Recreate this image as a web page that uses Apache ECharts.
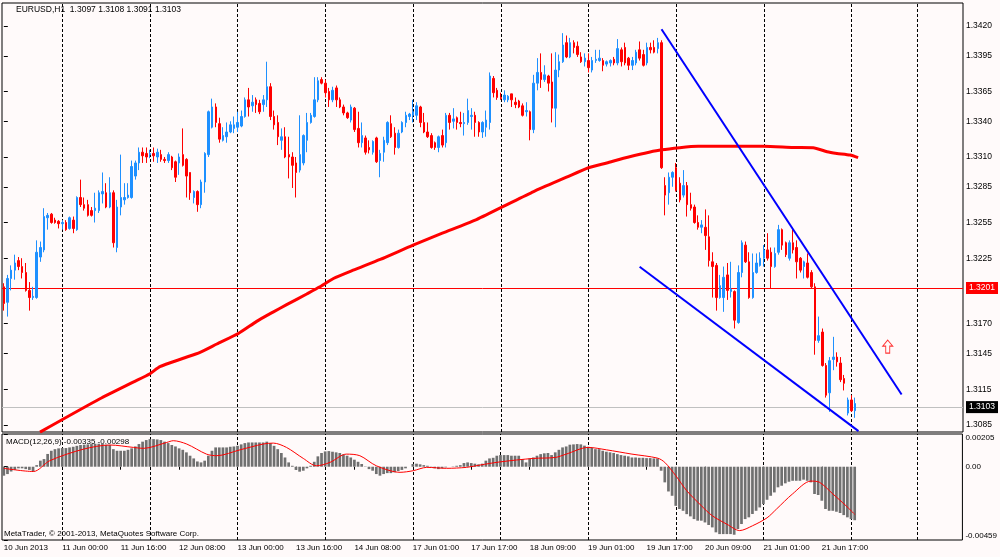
<!DOCTYPE html>
<html>
<head>
<meta charset="utf-8">
<script src="https://cdn.jsdelivr.net/npm/echarts@6/dist/echarts.min.js"></script>
<style>
    html, body { margin: 0; padding: 0; background: #FFFAFA; }
    #chart { width: 1000px; height: 557px; }
</style>
</head>
<body>
<div id="chart"></div>
<script>
// EURUSD H1, 10 Jun 08:00 .. 24 Jun 2013

const slotCount = 263 // bars + empty shift on the right

const opens = [
    1.3201,1.3188,1.3208,1.3215,1.3223,1.3218,1.3213,1.3198,1.3192,1.3192,
    1.3226,1.3232,1.3259,1.3262,1.3257,1.3256,1.3254,1.3255,1.3250,1.3257,
    1.3249,1.3276,1.3270,1.3270,1.3265,1.3265,1.3265,1.3279,1.3280,1.3268,
    1.3280,1.3234,1.3268,1.3274,1.3276,1.3276,1.3294,1.3305,1.3314,1.3313,
    1.3312,1.3313,1.3310,1.3312,1.3308,1.3307,1.3310,1.3306,1.3305,1.3312,
    1.3308,1.3297,1.3276,1.3281,1.3270,1.3289,1.3312,1.3335,1.3352,1.3338,
    1.3324,1.3327,1.3331,1.3334,1.3335,1.3336,1.3344,1.3358,1.3353,1.3358,
    1.3355,1.3354,1.3358,1.3369,1.3344,1.3339,1.3324,1.3327,1.3312,1.3310,
    1.3305,1.3299,1.3305,1.3324,1.3339,1.3344,1.3358,1.3375,1.3372,1.3365,
    1.3358,1.3368,1.3358,1.3352,1.3347,1.3341,1.3351,1.3334,1.3322,1.3326,
    1.3318,1.3314,1.3326,1.3307,1.3314,1.3322,1.3338,1.3330,1.3318,1.3331,
    1.3339,1.3344,1.3345,1.3345,1.3352,1.3339,1.3331,1.3328,1.3322,1.3318,
    1.3328,1.3322,1.3345,1.3340,1.3343,1.3339,1.3338,1.3339,1.3344,1.3345,
    1.3339,1.3331,1.3335,1.3339,1.3376,1.3366,1.3360,1.3358,1.3358,1.3363,
    1.3356,1.3357,1.3353,1.3348,1.3348,1.3333,1.3372,1.3381,1.3375,1.3378,
    1.3373,1.3351,1.3383,1.3390,1.3406,1.3394,1.3406,1.3403,1.3394,1.3390,
    1.3391,1.3383,1.3391,1.3391,1.3391,1.3388,1.3389,1.3392,1.3389,1.3400,
    1.3402,1.3393,1.3387,1.3389,1.3400,1.3396,1.3389,1.3402,1.3402,1.3401,
    1.3406,1.3286,1.3280,1.3293,1.3301,1.3288,1.3278,1.3286,1.3270,1.3268,
    1.3255,1.3251,1.3251,1.3243,1.3222,1.3219,1.3192,1.3192,1.3211,1.3197,
    1.3197,1.3171,1.3213,1.3236,1.3222,1.3192,1.3213,1.3219,1.3225,1.3232,
    1.3230,1.3218,1.3230,1.3249,1.3238,1.3225,1.3238,1.3234,1.3225,1.3218,
    1.3221,1.3213,1.3201,1.3156,1.3163,1.3135,1.3112,1.3140,1.3142,1.3137,
    1.3124,1.3095,1.3106,1.3097
]
const highs = [
    1.3204,1.3211,1.3219,1.3228,1.3226,1.3225,1.3221,1.3205,1.3201,1.3240,
    1.3239,1.3267,1.3263,1.3263,1.3259,1.3257,1.3257,1.3257,1.3260,1.3260,
    1.3277,1.3291,1.3276,1.3274,1.3268,1.3280,1.3282,1.3297,1.3288,1.3293,
    1.3282,1.3274,1.3312,1.3288,1.3288,1.3307,1.3307,1.3318,1.3318,1.3318,
    1.3316,1.3318,1.3317,1.3316,1.3310,1.3314,1.3311,1.3307,1.3313,1.3334,
    1.3309,1.3297,1.3282,1.3282,1.3291,1.3314,1.3349,1.3359,1.3355,1.3343,
    1.3335,1.3339,1.3340,1.3344,1.3348,1.3349,1.3360,1.3368,1.3362,1.3360,
    1.3358,1.3362,1.3390,1.3372,1.3349,1.3345,1.3334,1.3335,1.3327,1.3314,
    1.3310,1.3345,1.3329,1.3347,1.3347,1.3377,1.3377,1.3377,1.3375,1.3368,
    1.3369,1.3370,1.3360,1.3354,1.3348,1.3354,1.3352,1.3348,1.3339,1.3328,
    1.3324,1.3324,1.3327,1.3316,1.3327,1.3340,1.3345,1.3335,1.3333,1.3340,
    1.3348,1.3347,1.3358,1.3356,1.3353,1.3347,1.3339,1.3330,1.3323,1.3328,
    1.3333,1.3347,1.3347,1.3351,1.3344,1.3348,1.3347,1.3359,1.3351,1.3348,
    1.3340,1.3340,1.3349,1.3381,1.3378,1.3368,1.3364,1.3366,1.3362,1.3363,
    1.3360,1.3358,1.3355,1.3356,1.3349,1.3379,1.3393,1.3397,1.3387,1.3379,
    1.3397,1.3398,1.3396,1.3414,1.3412,1.3410,1.3408,1.3407,1.3398,1.3397,
    1.3397,1.3394,1.3400,1.3400,1.3393,1.3391,1.3392,1.3394,1.3409,1.3402,
    1.3406,1.3394,1.3394,1.3400,1.3407,1.3400,1.3406,1.3406,1.3408,1.3410,
    1.3408,1.3293,1.3297,1.3298,1.3305,1.3293,1.3299,1.3289,1.3280,1.3270,
    1.3261,1.3257,1.3266,1.3261,1.3230,1.3221,1.3211,1.3218,1.3221,1.3222,
    1.3198,1.3219,1.3240,1.3239,1.3230,1.3229,1.3229,1.3230,1.3236,1.3246,
    1.3234,1.3234,1.3253,1.3250,1.3239,1.3240,1.3249,1.3240,1.3226,1.3223,
    1.3229,1.3215,1.3204,1.3176,1.3166,1.3137,1.3142,1.3159,1.3146,1.3142,
    1.3127,1.3108,1.3110,1.3108
]
const lows = [
    1.3181,1.3176,1.3198,1.3207,1.3215,1.3208,1.3197,1.3181,1.3190,1.3191,
    1.3222,1.3230,1.3249,1.3254,1.3254,1.3250,1.3249,1.3248,1.3249,1.3246,
    1.3248,1.3268,1.3265,1.3260,1.3260,1.3255,1.3263,1.3271,1.3267,1.3267,
    1.3234,1.3230,1.3261,1.3270,1.3275,1.3275,1.3291,1.3299,1.3305,1.3305,
    1.3309,1.3306,1.3305,1.3306,1.3305,1.3305,1.3299,1.3289,1.3295,1.3302,
    1.3276,1.3274,1.3271,1.3264,1.3267,1.3280,1.3310,1.3334,1.3335,1.3322,
    1.3323,1.3322,1.3330,1.3330,1.3331,1.3335,1.3343,1.3344,1.3348,1.3347,
    1.3346,1.3348,1.3352,1.3341,1.3333,1.3320,1.3316,1.3309,1.3292,1.3284,
    1.3276,1.3297,1.3303,1.3314,1.3338,1.3343,1.3356,1.3371,1.3360,1.3352,
    1.3356,1.3352,1.3351,1.3345,1.3342,1.3339,1.3331,1.3318,1.3318,1.3312,
    1.3313,1.3312,1.3305,1.3293,1.3306,1.3320,1.3326,1.3312,1.3317,1.3330,
    1.3335,1.3341,1.3339,1.3341,1.3335,1.3330,1.3326,1.3317,1.3316,1.3314,
    1.3318,1.3318,1.3333,1.3334,1.3333,1.3335,1.3328,1.3337,1.3333,1.3327,
    1.3327,1.3326,1.3327,1.3333,1.3360,1.3358,1.3358,1.3356,1.3356,1.3352,
    1.3351,1.3351,1.3344,1.3344,1.3324,1.3330,1.3366,1.3368,1.3373,1.3365,
    1.3339,1.3335,1.3377,1.3389,1.3393,1.3393,1.3397,1.3394,1.3389,1.3386,
    1.3381,1.3381,1.3389,1.3390,1.3382,1.3386,1.3386,1.3387,1.3387,1.3386,
    1.3387,1.3383,1.3383,1.3387,1.3391,1.3386,1.3387,1.3397,1.3397,1.3397,
    1.3300,1.3261,1.3270,1.3285,1.3281,1.3272,1.3276,1.3260,1.3265,1.3254,
    1.3249,1.3246,1.3232,1.3218,1.3192,1.3181,1.3191,1.3180,1.3190,1.3192,
    1.3166,1.3170,1.3209,1.3221,1.3191,1.3191,1.3212,1.3218,1.3218,1.3223,
    1.3200,1.3217,1.3228,1.3232,1.3226,1.3223,1.3229,1.3208,1.3213,1.3208,
    1.3208,1.3200,1.3144,1.3154,1.3134,1.3108,1.3096,1.3131,1.3134,1.3121,
    1.3114,1.3093,1.3096,1.3091
]
const closes = [
    1.3187,1.3208,1.3215,1.3221,1.3218,1.3213,1.3198,1.3192,1.3193,1.3230,
    1.3234,1.3260,1.3261,1.3255,1.3255,1.3254,1.3255,1.3249,1.3259,1.3250,
    1.3276,1.3270,1.3267,1.3261,1.3261,1.3267,1.3280,1.3281,1.3268,1.3280,
    1.3238,1.3268,1.3276,1.3276,1.3278,1.3302,1.3305,1.3314,1.3311,1.3310,
    1.3313,1.3311,1.3314,1.3308,1.3307,1.3312,1.3301,1.3293,1.3310,1.3303,
    1.3294,1.3280,1.3281,1.3270,1.3289,1.3313,1.3348,1.3352,1.3339,1.3325,
    1.3328,1.3331,1.3337,1.3337,1.3339,1.3344,1.3358,1.3352,1.3356,1.3354,
    1.3348,1.3358,1.3369,1.3344,1.3337,1.3327,1.3327,1.3310,1.3310,1.3303,
    1.3297,1.3312,1.3328,1.3339,1.3345,1.3358,1.3374,1.3372,1.3364,1.3358,
    1.3366,1.3358,1.3352,1.3347,1.3343,1.3352,1.3333,1.3322,1.3328,1.3314,
    1.3316,1.3323,1.3306,1.3313,1.3324,1.3339,1.3327,1.3318,1.3330,1.3339,
    1.3345,1.3346,1.3348,1.3353,1.3339,1.3331,1.3327,1.3318,1.3318,1.3327,
    1.3320,1.3345,1.3339,1.3342,1.3339,1.3338,1.3339,1.3349,1.3345,1.3339,
    1.3331,1.3339,1.3341,1.3378,1.3364,1.3360,1.3359,1.3362,1.3361,1.3358,
    1.3354,1.3352,1.3345,1.3349,1.3333,1.3372,1.3381,1.3375,1.3379,1.3372,
    1.3351,1.3383,1.3390,1.3404,1.3394,1.3406,1.3402,1.3396,1.3390,1.3393,
    1.3385,1.3391,1.3392,1.3393,1.3387,1.3390,1.3391,1.3389,1.3401,1.3390,
    1.3389,1.3387,1.3391,1.3398,1.3393,1.3387,1.3402,1.3400,1.3398,1.3406,
    1.3301,1.3278,1.3293,1.3297,1.3282,1.3274,1.3286,1.3270,1.3267,1.3255,
    1.3251,1.3253,1.3244,1.3223,1.3218,1.3192,1.3202,1.3209,1.3198,1.3199,
    1.3173,1.3213,1.3238,1.3222,1.3192,1.3213,1.3221,1.3225,1.3232,1.3225,
    1.3218,1.3229,1.3249,1.3236,1.3228,1.3238,1.3232,1.3222,1.3215,1.3222,
    1.3209,1.3201,1.3156,1.3160,1.3135,1.3110,1.3139,1.3142,1.3138,1.3123,
    1.3120,1.3106,1.3097,1.3103
]

// 200 period MA, points picked along the drawn curve: [bar, price]
const maPoints = [
    [9.9, 1.3079], [26.3, 1.3107], [35.4, 1.3121], [40, 1.3128], [42.7, 1.3134],
    [49.1, 1.3141], [53.7, 1.3146], [58.3, 1.3153], [64.3, 1.3162], [69.2, 1.3172],
    [73.8, 1.3180], [77.4, 1.3186], [82.9, 1.3195], [86.5, 1.3201], [90.2, 1.3208],
    [95.6, 1.3215], [103, 1.3224], [112, 1.3236], [120, 1.3246], [129, 1.3257],
    [137, 1.3269], [145, 1.3281], [154, 1.3293], [160, 1.3301], [165, 1.3305],
    [171, 1.3310], [180, 1.3316], [190, 1.3319], [208, 1.3319], [216, 1.3318],
    [221.5, 1.33178], [225.3, 1.33144], [228, 1.3313], [231.6, 1.33116], [233.8, 1.33094]
]

// hand drawn channel lines
const upperTrend = [[180.0, 1.34172], [245.7, 1.31106]]
const lowerTrend = [[174.0, 1.32178], [233.9, 1.30798]]
const arrowPoint = [[241.9, 1.31508]]

const lineLevel = 1.3201
const bidLevel = 1.3103

// MACD(12,26,9) main histogram
const macdHist = [
    -0.00056,-0.00046,-0.00030,-0.00020,-0.00010,-0.00010,-0.00015,-0.00020,-0.00030,0.00010,
    0.00038,0.00048,0.00080,0.00100,0.00110,0.00115,0.00117,0.00117,0.00121,0.00125,
    0.00131,0.00136,0.00138,0.00140,0.00142,0.00144,0.00144,0.00142,0.00138,0.00136,
    0.00110,0.00100,0.00100,0.00100,0.00106,0.00115,0.00127,0.00142,0.00157,0.00167,
    0.00173,0.00173,0.00171,0.00167,0.00157,0.00148,0.00136,0.00127,0.00115,0.00106,
    0.00090,0.00069,0.00052,0.00033,0.00027,0.00038,0.00069,0.00100,0.00121,0.00121,
    0.00121,0.00121,0.00125,0.00127,0.00131,0.00140,0.00148,0.00152,0.00152,0.00152,
    0.00152,0.00152,0.00157,0.00148,0.00131,0.00110,0.00086,0.00058,0.00027,0.00006,
    -0.00020,-0.00031,-0.00025,-0.00010,0.00006,0.00031,0.00065,0.00086,0.00096,0.00098,
    0.00094,0.00090,0.00086,0.00077,0.00069,0.00058,0.00044,0.00031,0.00017,0.00002,
    -0.00015,-0.00025,-0.00046,-0.00056,-0.00046,-0.00040,-0.00040,-0.00035,-0.00027,-0.00020,
    -0.00010,0.00000,0.00017,0.00019,0.00015,0.00010,0.00006,-0.00004,-0.00010,-0.00015,
    -0.00010,-0.00004,0.00000,0.00002,0.00006,0.00010,0.00023,0.00027,0.00023,0.00019,
    0.00015,0.00019,0.00038,0.00052,0.00056,0.00069,0.00073,0.00073,0.00073,0.00069,
    0.00069,0.00069,0.00048,0.00027,0.00052,0.00058,0.00069,0.00079,0.00084,0.00086,
    0.00073,0.00090,0.00106,0.00121,0.00127,0.00138,0.00140,0.00142,0.00140,0.00132,
    0.00125,0.00121,0.00110,0.00110,0.00100,0.00094,0.00090,0.00086,0.00079,0.00073,
    0.00069,0.00065,0.00058,0.00058,0.00056,0.00056,0.00054,0.00054,0.00052,0.00052,
    -0.00025,-0.00098,-0.00155,-0.00182,-0.00245,-0.00265,-0.00276,-0.00297,-0.00311,-0.00328,
    -0.00338,-0.00338,-0.00349,-0.00365,-0.00380,-0.00411,-0.00422,-0.00422,-0.00422,-0.00422,
    -0.00426,-0.00390,-0.00359,-0.00328,-0.00317,-0.00296,-0.00276,-0.00255,-0.00234,-0.00207,
    -0.00182,-0.00161,-0.00129,-0.00119,-0.00104,-0.00094,-0.00088,-0.00088,-0.00088,-0.00081,
    -0.00088,-0.00098,-0.00171,-0.00177,-0.00213,-0.00265,-0.00276,-0.00276,-0.00282,-0.00290,
    -0.00303,-0.00317,-0.00328,-0.00335
]

// MACD signal line, points along the curve: [bar, value]
const macdSignal = [
    [0, -0.00010], [8.1, -0.00030], [12.6, 0.00038], [21.8, 0.00110], [29.1, 0.00136],
    [35.5, 0.00121], [38.2, 0.00115], [44.6, 0.00152], [46.4, 0.00163], [50.1, 0.00142],
    [55.5, 0.00079], [58.3, 0.00069], [64.7, 0.00106], [71, 0.00142], [73.8, 0.00148],
    [77.4, 0.00121], [82, 0.00052], [85.6, 0.00006], [89.3, 0.00027], [93.8, 0.00079],
    [97.5, 0.00069], [102, 0.00006], [108.5, -0.00035], [112.1, -0.00025], [115.8, -0.00004],
    [121.2, -0.00010], [126.7, -0.00004], [130.3, 0.00010], [135.8, 0.00030], [145, 0.00052],
    [151, 0.00058], [154, 0.00079], [160, 0.00121], [165, 0.00106], [172, 0.00079],
    [179, 0.00054], [181, 0.00027], [184, -0.00056], [187, -0.00150], [191, -0.00244],
    [194, -0.00307], [198, -0.00360], [201.5, -0.00400], [205, -0.00370], [209, -0.00320],
    [211.6, -0.00265], [216, -0.00170], [221, -0.00090], [223.4, -0.00098], [227, -0.00170],
    [230.6, -0.00244], [233, -0.00298]
]

const gridBars = [16, 40, 64, 88, 112, 136, 160, 184, 208, 232, 250]
const labelBars = [0, 16, 32, 48, 64, 80, 96, 112, 128, 144, 160, 176, 192, 208, 224]
const labelTexts = [
    "10 Jun 2013", "11 Jun 00:00", "11 Jun 16:00", "12 Jun 08:00", "13 Jun 00:00",
    "13 Jun 16:00", "14 Jun 08:00", "17 Jun 01:00", "17 Jun 17:00", "18 Jun 09:00",
    "19 Jun 01:00", "19 Jun 17:00", "20 Jun 09:00", "21 Jun 01:00", "21 Jun 17:00"
]
const priceTicks = [1.3085, 1.3115, 1.3145, 1.3170, 1.3225, 1.3255, 1.3285, 1.3310, 1.3340, 1.3365, 1.3395, 1.3420]
const macdTicks = [-0.00459, 0, 0.00205]

const FONT = "Liberation Sans"
const slots = Array.from({ length: slotCount }, (_, i) => String(i))
const candles = opens.map((o, i) => [o, closes[i], lows[i], highs[i]])
const isLabelBar = idx => labelBars.indexOf(idx) >= 0

const chart = echarts.init(document.getElementById("chart"), null, { renderer: "canvas" })

const option = {
    animation: false,
    backgroundColor: "#FFFAFA",
    textStyle: { fontFamily: FONT },
    grid: [
        { left: 2, right: 37, top: 3, bottom: 125, show: true, borderColor: "#000", borderWidth: 1, backgroundColor: "#FFFAFA" },
        { left: 2, right: 37, top: 434, bottom: 17, show: true, borderColor: "#000", borderWidth: 1, backgroundColor: "#FFFAFA" },
    ],
    xAxis: [
        {
            type: "category", gridIndex: 0, data: slots, boundaryGap: true,
            axisLine: { show: false }, axisTick: { show: false }, axisLabel: { show: false }, splitLine: { show: false },
        },
        { type: "value", gridIndex: 0, min: -0.5, max: slotCount - 0.5, show: false },
        {
            type: "category", gridIndex: 1, data: slots, boundaryGap: true,
            axisLine: { show: false },
            axisTick: {
                show: true, alignWithLabel: true, length: 3,
                interval: idx => isLabelBar(idx),
                lineStyle: { color: "#000" },
            },
            axisLabel: {
                interval: idx => isLabelBar(idx),
                formatter: (val, idx) => labelTexts[labelBars.indexOf(Number(val))],
                align: "left",
                margin: 4,
                fontSize: 8,
                color: "#000",
                fontFamily: FONT,
            },
            splitLine: { show: false },
        },
        { type: "value", gridIndex: 1, min: -0.5, max: slotCount - 0.5, show: false },
    ],
    yAxis: [
        {
            type: "value", gridIndex: 0, position: "right",
            min: 1.30791, max: 1.34393,
            axisLine: { show: false },
            splitLine: { show: false },
            axisTick: { show: true, length: 4, customValues: priceTicks, lineStyle: { color: "#000" } },
            axisLabel: {
                customValues: priceTicks,
                formatter: v => v.toFixed(4),
                margin: 3,
                fontSize: 8.5,
                color: "#000",
                fontFamily: FONT,
            },
        },
        {
            type: "value", gridIndex: 1, position: "right",
            min: -0.00459, max: 0.00205,
            axisLine: { show: false },
            splitLine: { show: false },
            axisTick: { show: true, length: 4, customValues: macdTicks, lineStyle: { color: "#000" } },
            axisLabel: {
                customValues: macdTicks,
                formatter: v => (v === 0 ? "0.00" : v.toFixed(5)),
                margin: 3,
                fontSize: 8,
                color: "#000",
                fontFamily: FONT,
                verticalAlignMaxLabel: "top",
                verticalAlignMinLabel: "bottom",
            },
        },
    ],
    graphic: [
        { type: "text", left: 16, top: 5, style: { text: "EURUSD,H1  1.3097 1.3108 1.3091 1.3103", font: `8.5px "${FONT}"`, fill: "#000" } },
        { type: "text", left: 6, top: 438, style: { text: "MACD(12,26,9) -0.00335 -0.00298", font: `8px "${FONT}"`, fill: "#000" } },
        { type: "text", left: 4, top: 530, style: { text: "MetaTrader, © 2001-2013, MetaQuotes Software Corp.", font: `8px "${FONT}"`, fill: "#000" } },
    ],
    series: [
        {
            // vertical grid, main window
            type: "line", xAxisIndex: 1, yAxisIndex: 0, data: [], z: 1,
            markLine: {
                silent: true, z: 1, symbol: ["none", "none"], animation: false,
                label: { show: false },
                lineStyle: { color: "#000", width: 1, type: [3, 2] },
                data: gridBars.map(b => ({ xAxis: b })),
            },
        },
        {
            // vertical grid, MACD window
            type: "line", xAxisIndex: 3, yAxisIndex: 1, data: [], z: 1,
            markLine: {
                silent: true, z: 1, symbol: ["none", "none"], animation: false,
                label: { show: false },
                lineStyle: { color: "#000", width: 1, type: [3, 2] },
                data: gridBars.map(b => ({ xAxis: b })),
            },
        },
        {
            // horizontal line + bid line with their price tags
            type: "line", xAxisIndex: 1, yAxisIndex: 0, data: [], z: 2,
            markLine: {
                silent: true, z: 2, symbol: ["none", "none"], animation: false,
                data: [
                    {
                        yAxis: lineLevel,
                        lineStyle: { color: "#FF0000", width: 1, type: "solid" },
                        label: {
                            show: true, position: "end", distance: 3,
                            formatter: lineLevel.toFixed(4),
                            color: "#FFF", backgroundColor: "#FF0000",
                            fontSize: 8.5, fontFamily: FONT, padding: [2, 3, 1, 3],
                        },
                    },
                    {
                        yAxis: bidLevel,
                        lineStyle: { color: "#C0C0C0", width: 1, type: "solid" },
                        label: {
                            show: true, position: "end", distance: 3,
                            formatter: bidLevel.toFixed(4),
                            color: "#FFF", backgroundColor: "#000",
                            fontSize: 8.5, fontFamily: FONT, padding: [2, 3, 1, 3],
                        },
                    },
                ],
            },
        },
        {
            name: "EURUSD",
            type: "candlestick",
            xAxisIndex: 0, yAxisIndex: 0,
            data: candles,
            barWidth: 2,
            z: 3,
            itemStyle: {
                color: "#1E90FF", color0: "#FF0000",
                borderColor: "#1E90FF", borderColor0: "#FF0000",
                borderColorDoji: "#1E90FF",
                borderWidth: 1,
            },
        },
        {
            name: "MA",
            type: "line", xAxisIndex: 1, yAxisIndex: 0,
            data: maPoints, smooth: 0.2, showSymbol: false, z: 4,
            lineStyle: { color: "#FF0000", width: 3 },
        },
        {
            type: "line", xAxisIndex: 1, yAxisIndex: 0,
            data: upperTrend, showSymbol: false, z: 5,
            lineStyle: { color: "#0000FF", width: 2 },
        },
        {
            type: "line", xAxisIndex: 1, yAxisIndex: 0,
            data: lowerTrend, showSymbol: false, z: 5,
            lineStyle: { color: "#0000FF", width: 2 },
        },
        {
            type: "scatter", xAxisIndex: 1, yAxisIndex: 0,
            data: arrowPoint, z: 5,
            symbol: "path://M5,0 L10,6 L7,6 L7,13 L3,13 L3,6 L0,6 Z",
            symbolSize: [10, 13],
            itemStyle: { color: "#FFFAFA", borderColor: "#FF0000", borderWidth: 1 },
        },
        {
            name: "MACD",
            type: "bar", xAxisIndex: 2, yAxisIndex: 1,
            data: macdHist, barWidth: 2.7, z: 3,
            itemStyle: { color: "#707070" },
        },
        {
            name: "Signal",
            type: "line", xAxisIndex: 3, yAxisIndex: 1,
            data: macdSignal, smooth: 0.3, showSymbol: false, z: 4,
            lineStyle: { color: "#FF0000", width: 1 },
        },
    ],
}

chart.setOption(option, true)
</script>
</body>
</html>
